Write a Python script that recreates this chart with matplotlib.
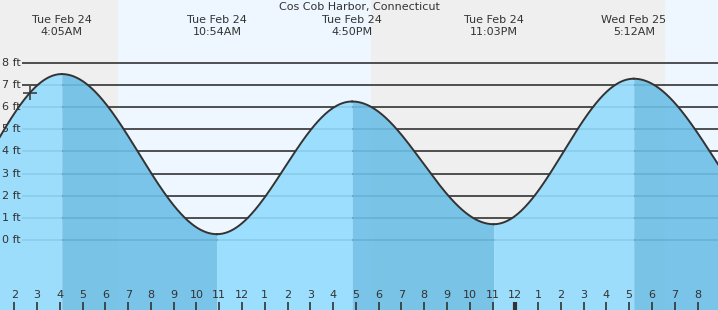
import numpy as np
import matplotlib
matplotlib.use("Agg")
import matplotlib.pyplot as plt
from matplotlib.transforms import blended_transform_factory

# ---- data (hours from midnight Tue Feb 24) ----
title = "Cos Cob Harbor, Connecticut"
# tide extremes (times in hours, heights in ft); first and last are off-chart neighbours
ext_times = [-2.1, 4.083, 10.9, 16.833, 23.05, 29.2, 36.2]
ext_heights = [0.5, 7.5, 0.26, 6.26, 0.71, 7.29, 0.2]
label_idx = [1, 2, 3, 4, 5]
label_dates = ["Tue Feb 24", "Tue Feb 24", "Tue Feb 24", "Tue Feb 24", "Wed Feb 25"]
label_times = ["4:05AM", "10:54AM", "4:50PM", "11:03PM", "5:12AM"]
# daylight / night bands
sunrise = [6.55, 30.58]
sunset = [17.66]
now_time = 2.69
ft_levels = [0, 1, 2, 3, 4, 5, 6, 7, 8]
hour_ticks = list(range(2, 33))
hour_labels = [str((h - 1) % 12 + 1) for h in hour_ticks]

# ---- layout ----
W, H = 718, 310
x0, x1 = 1.372, 32.90
y0, y1 = -3.17, 10.85
night_col = "#efefef"
day_col = "#eef7ff"
rise_col = "#93dcfe"
fall_col = "#6cbfe6"
ink = "#333333"
FONT = "DejaVu Sans"
FS = 8.0

fig = plt.figure(figsize=(W / 100, H / 100), dpi=100)
ax = fig.add_axes([0, 0, 1, 1])
ax.set_xlim(x0, x1)
ax.set_ylim(y0, y1)
ax.axis("off")

# background bands
ax.axvspan(x0, sunrise[0], color=night_col, lw=0, zorder=0)
ax.axvspan(sunrise[0], sunset[0], color=day_col, lw=0, zorder=0)
ax.axvspan(sunset[0], sunrise[1], color=night_col, lw=0, zorder=0)
ax.axvspan(sunrise[1], x1, color=day_col, lw=0, zorder=0)

# grid lines & labels
gx_start = x0 + 22 / W * (x1 - x0)
for lv in ft_levels:
    ax.plot([gx_start, x1], [lv, lv], color=ink, lw=1.2, zorder=1,
            solid_capstyle="butt")
    ax.text(x0 + 2 / W * (x1 - x0), lv, f"{lv} ft", ha="left", va="center",
            fontsize=FS, family=FONT, color=ink, zorder=5)

# tide curve between extremes (cosine rule)
for i in range(len(ext_times) - 1):
    ta, tb = ext_times[i], ext_times[i + 1]
    ha_, hb_ = ext_heights[i], ext_heights[i + 1]
    t = np.linspace(ta, tb, 200)
    f = (t - ta) / (tb - ta)
    h = ha_ + (hb_ - ha_) * (1 - np.cos(np.pi * f)) / 2
    col = rise_col if hb_ > ha_ else fall_col
    ax.fill_between(t, y0, h, color=col, alpha=0.9, lw=0, zorder=2)
    ax.plot(t, h, color=ink, lw=1.4, zorder=4)

# current time marker
def height_at(tq):
    for i in range(len(ext_times) - 1):
        ta, tb = ext_times[i], ext_times[i + 1]
        if ta <= tq <= tb:
            f = (tq - ta) / (tb - ta)
            return ext_heights[i] + (ext_heights[i + 1] - ext_heights[i]) * (1 - np.cos(np.pi * f)) / 2
    return 0
ax.plot([now_time], [height_at(now_time)], marker="+", ms=10, mew=1.1,
        color=ink, zorder=6)

# top labels
tr = blended_transform_factory(ax.transData, ax.transAxes)
ax.text(0.5, 1 - 7 / H, title, transform=ax.transAxes, ha="center", va="center",
        fontsize=FS, family=FONT, color=ink)
for k, idx in enumerate(label_idx):
    tx = ext_times[idx]
    ax.text(tx, 1 - 20 / H, label_dates[k], transform=tr, ha="center",
            va="center", fontsize=FS, family=FONT, color=ink)
    ax.text(tx, 1 - 32 / H, label_times[k], transform=tr, ha="center",
            va="center", fontsize=FS, family=FONT, color=ink)

# hour ticks
for hv, lab in zip(hour_ticks, hour_labels):
    lw = 3 if hv == 24 else 1.2
    ax.plot([hv, hv], [0, 8 / H], transform=tr, color=ink, lw=lw,
            solid_capstyle="butt", zorder=6)
    ax.text(hv, 15 / H, lab, transform=tr, ha="center", va="center",
            fontsize=FS, family=FONT, color=ink, zorder=6)

fig.savefig("out.png", dpi=100)
